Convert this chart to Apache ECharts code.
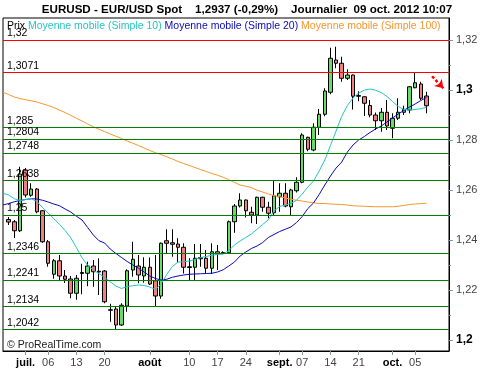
<!DOCTYPE html>
<html><head><meta charset="utf-8">
<script src="https://cdn.jsdelivr.net/npm/echarts@6/dist/echarts.min.js"></script>
<style>html,body{margin:0;padding:0;background:#fff}#c{width:500px;height:370px}</style>
</head><body><div id="c"></div>
<script>
const categories = ['26/06','27/06','28/06','29/06',
'02/07','03/07','04/07','05/07','06/07','09/07','10/07','11/07','12/07','13/07',
'16/07','17/07','18/07','19/07','20/07','23/07','24/07','25/07','26/07','27/07','30/07','31/07',
'01/08','02/08','03/08','06/08','07/08','08/08','09/08','10/08','13/08','14/08','15/08','16/08','17/08',
'20/08','21/08','22/08','23/08','24/08','27/08','28/08','29/08','30/08','31/08',
'03/09','04/09','05/09','06/09','07/09','10/09','11/09','12/09','13/09','14/09',
'17/09','18/09','19/09','20/09','21/09','24/09','25/09','26/09','27/09','28/09',
'01/10','02/10','03/10','04/10','05/10','08/10','09/10','10/10','11/10','12/10','15/10'];

const open = [null,
1.2482,1.2473,1.2437,
1.2680,1.2579,1.2604,1.2517,1.2393,
1.2263,1.2317,1.2256,1.2244,1.2187,
1.2266,1.2267,1.2296,1.2272,1.2276,
1.2121,1.2124,1.2060,1.2136,1.2280,
1.2296,1.2256,
1.2291,1.2237,1.2176,
1.2397,1.2389,1.2384,1.2371,1.2293,
1.2291,1.2330,1.2327,1.2287,1.2353,
1.2348,1.2349,1.2473,1.2536,1.2560,
1.2511,1.2500,1.2571,1.2531,1.2509,
1.2573,1.2587,1.2533,1.2597,1.2631,
1.2811,1.2760,1.2851,1.2903,1.2991,
1.3120,1.3107,1.3047,1.3060,1.2975,
1.2973,1.2938,1.2900,1.2877,1.2911,
1.2847,1.2887,1.2911,1.2920,1.3009,
1.3024,1.2976,
null,null,null,null];

const close = [null,
1.2472,1.2437,1.2664,
1.2580,1.2604,1.2513,1.2393,1.2307,
1.2317,1.2256,1.2243,1.2187,1.2247,
1.2270,1.2296,1.2273,1.2275,1.2153,
1.2119,1.2060,1.2139,1.2277,1.2323,
1.2260,1.2291,
1.2224,1.2176,1.2387,
1.2387,1.2383,1.2371,1.2291,1.2290,
1.2327,1.2325,1.2287,1.2353,1.2344,
1.2350,1.2473,1.2536,1.2560,1.2517,
1.2500,1.2571,1.2531,1.2507,1.2577,
1.2587,1.2536,1.2600,1.2631,1.2820,
1.2763,1.2851,1.2903,1.2996,1.3127,
1.3107,1.3047,1.3060,1.2975,1.2978,
1.2947,1.2900,1.2877,1.2911,1.2856,
1.2887,1.2911,1.2923,1.3013,1.3029,
1.2967,1.2937,
null,null,null,null];

const low = [null,
1.2460,1.2408,1.2432,
1.2570,1.2573,1.2507,1.2389,1.2293,
1.2245,1.2240,1.2228,1.2167,1.2161,
1.2183,1.2215,1.2213,1.2180,1.2147,
1.2073,1.2043,1.2056,1.2113,1.2253,
1.2227,1.2229,
1.2220,1.2133,1.2165,
1.2347,1.2333,1.2310,1.2266,1.2240,
1.2240,1.2293,1.2264,1.2264,1.2280,
1.2343,1.2345,1.2429,1.2530,1.2490,
1.2467,1.2464,1.2513,1.2487,1.2500,
1.2513,1.2531,1.2500,1.2590,1.2627,
1.2755,1.2755,1.2820,1.2895,1.2983,
1.3087,1.3033,1.3040,1.2922,1.2955,
1.2896,1.2891,1.2840,1.2833,1.2840,
1.2807,1.2880,1.2900,1.2907,1.3007,
1.2960,1.2907,
null,null,null,null];

const high = [null,
1.2492,1.2480,1.2693,
1.2688,1.2627,1.2608,1.2520,1.2400,
1.2324,1.2340,1.2280,1.2256,1.2260,
1.2305,1.2313,1.2320,1.2327,1.2280,
1.2145,1.2133,1.2147,1.2283,1.2393,
1.2340,1.2331,
1.2330,1.2340,1.2390,
1.2443,1.2443,1.2407,1.2387,1.2327,
1.2384,1.2384,1.2360,1.2387,1.2380,
1.2355,1.2478,1.2544,1.2587,1.2562,
1.2533,1.2573,1.2573,1.2553,1.2637,
1.2627,1.2627,1.2605,1.2651,1.2827,
1.2813,1.2867,1.2924,1.3007,1.3169,
1.3173,1.3133,1.3083,1.3062,1.2995,
1.2975,1.2960,1.2910,1.2928,1.2960,
1.2907,1.2967,1.2937,1.3016,1.3069,
1.3033,1.2993,
null,null,null,null];

const sma10 = [1.2587,1.2580,1.2565,1.2558,1.2562,1.2565,1.2554,1.2530,1.2508,1.2485,
1.2463,1.2438,1.2409,1.2370,1.2329,1.2299,1.2279,1.2266,1.2250,1.2233,
1.2216,1.2206,1.2214,1.2217,1.2220,1.2218,1.2212,1.2202,1.2225,1.2262,
1.2294,1.2312,1.2313,1.2316,1.2322,1.2330,1.2334,1.2339,1.2342,1.2344,
1.2358,1.2380,1.2396,1.2410,1.2424,1.2443,1.2462,1.2481,1.2516,1.2534,
1.2540,1.2546,1.2559,1.2584,1.2612,1.2636,1.2676,1.2720,1.2778,1.2836,
1.2895,1.2938,1.2968,1.2988,1.2999,1.3004,1.2999,1.2990,1.2974,1.2954,
1.2934,1.2922,1.2920,1.2922,1.2925,1.2931,null,null,null,null];

const sma20 = [1.2540,1.2546,1.2553,1.2558,1.2562,1.2565,1.2564,1.2559,1.2552,1.2544,
1.2537,1.2524,1.2512,1.2495,1.2480,1.2450,1.2420,1.2397,1.2388,1.2364,
1.2346,1.2330,1.2314,1.2300,1.2287,1.2272,1.2256,1.2246,1.2240,1.2243,
1.2251,1.2256,1.2260,1.2263,1.2264,1.2265,1.2266,1.2267,1.2272,1.2281,
1.2296,1.2312,1.2336,1.2352,1.2366,1.2376,1.2390,1.2410,1.2422,1.2434,
1.2443,1.2452,1.2470,1.2494,1.2526,1.2548,1.2582,1.2620,1.2656,1.2688,
1.2712,1.2752,1.2780,1.2800,1.2814,1.2830,1.2844,1.2856,1.2872,1.2888,
1.2904,1.2918,1.2932,1.2944,1.2958,1.2970,null,null,null,null];

const sma100 = [1.2991,1.2982,1.2972,1.2966,1.2961,1.2957,1.2952,1.2945,1.2938,1.2930,
1.2920,1.2910,1.2899,1.2887,1.2876,1.2864,1.2853,1.2843,1.2834,1.2824,
1.2815,1.2806,1.2796,1.2787,1.2778,1.2768,1.2758,1.2749,1.2742,1.2733,
1.2724,1.2714,1.2706,1.2698,1.2690,1.2682,1.2674,1.2666,1.2659,1.2651,
1.2641,1.2630,1.2620,1.2615,1.2610,1.2599,1.2592,1.2584,1.2578,1.2573,
1.2568,1.2563,1.2559,1.2556,1.2552,1.2549,1.2546,1.2546,1.2544,1.2543,
1.2542,1.2540,1.2537,1.2536,1.2535,1.2534,1.2533,1.2533,1.2533,1.2533,
1.2535,1.2538,1.2542,1.2544,1.2546,1.2547,null,null,null,null];

const resistanceLevels = [1.32, 1.3071];
const resistanceLabels = ['1,32', '1,3071'];
const supportLevels = [1.285, 1.2804, 1.2748, 1.2638, 1.25, 1.2346, 1.2241, 1.2134, 1.2042];
const supportLabels = ['1,285', '1,2804', '1,2748', '1,2638', '1,25', '1,2346', '1,2241', '1,2134', '1,2042'];

const yTickValues = [1.20, 1.22, 1.24, 1.26, 1.28, 1.30, 1.32];
const yTickLabels = ['1,2', '1,22', '1,24', '1,26', '1,28', '1,3', '1,32'];
const yMinorTickValues = [1.21, 1.23, 1.25, 1.27, 1.29, 1.31];

const xTickDates = ['02/07','06/07','13/07','20/07','01/08','10/08','17/08','24/08','03/09','07/09','14/09','21/09','01/10','05/10'];
const xTickLabels = ['juil.','06','13','20','août','10','17','24','sept.','07','14','21','oct.','05'];

const arrowFrom = [76.4, 1.3055];
const arrowTo = [78.3, 1.3007];

const titleText = 'EURUSD - EUR/USD Spot    1,2937 (-0,29%)    Journalier  09 oct. 2012 10:07';
const legendNames = ['Prix', 'Moyenne mobile (Simple 10)', 'Moyenne mobile (Simple 20)', 'Moyenne mobile (Simple 100)'];
const copyrightText = '© ProRealTime.com';

// ---------------- rendering ----------------
const FONT = 'Arial, "Liberation Sans", sans-serif';
const TICK = '#7f97b2';
const C10 = '#25c4c4', C20 = '#0a0ab8', C100 = '#f7962e';
const UP = '#66dd66', DOWN = '#f08080';

const xTickMap = {};
xTickDates.forEach((d, i) => { xTickMap[d] = xTickLabels[i]; });

const candleData = categories.map((d, i) =>
  open[i] == null ? ['-', '-', '-', '-'] : [open[i], close[i], low[i], high[i]]);

const levelData = [];
resistanceLevels.forEach((v, i) => levelData.push({
  yAxis: v, lineStyle: {color: '#ff0000', width: 1, type: 'solid'},
  label: {formatter: resistanceLabels[i]}
}));
supportLevels.forEach((v, i) => levelData.push({
  yAxis: v, lineStyle: {color: '#008000', width: 1, type: 'solid'},
  label: {formatter: supportLabels[i]}
}));

function yLabel(v) {
  let idx = -1;
  yTickValues.forEach((t, i) => { if (Math.abs(t - v) < 1e-6) idx = i; });
  if (idx < 0) return '';
  const s = yTickLabels[idx];
  return /^\d,\d$/.test(s) ? '{b|' + s + '}' : s;
}

const chart = echarts.init(document.getElementById('c'));
chart.setOption({
  animation: false,
  backgroundColor: '#fff',
  grid: {left: 3, right: 51, top: 18, bottom: 19, show: true, borderColor: '#000', borderWidth: 1},
  xAxis: {
    type: 'category', data: categories, boundaryGap: false,
    axisLine: {lineStyle: {color: '#000', width: 1}},
    axisTick: {interval: (i, v) => xTickMap[v] !== undefined, length: 4, lineStyle: {color: TICK}},
    axisLabel: {
      interval: (i, v) => xTickMap[v] !== undefined,
      formatter: v => { const s = xTickMap[v] || ''; return /[a-zû]/.test(s) ? '{m|' + s + '}' : s; },
      margin: 6, fontSize: 11, color: '#444', fontFamily: FONT,
      rich: {m: {fontWeight: 'bold', color: '#000', fontSize: 11, fontFamily: FONT}}
    },
    splitLine: {show: false}
  },
  yAxis: [{
    type: 'value', position: 'right', min: 1.1956, max: 1.3288,
    axisLine: {show: true, lineStyle: {color: '#000'}},
    axisTick: {show: true, customValues: yTickValues, length: 4, lineStyle: {color: TICK}},
    axisLabel: {customValues: yTickValues, margin: 7, formatter: yLabel, fontSize: 11, color: '#444', fontFamily: FONT,
      rich: {b: {fontWeight: 'bold', fontSize: 12, color: '#000', fontFamily: FONT}}},
    splitLine: {show: false}
  }, {
    type: 'value', position: 'right', min: 1.1956, max: 1.3288,
    axisLine: {show: false},
    axisTick: {show: true, customValues: yMinorTickValues, length: 2, lineStyle: {color: TICK}},
    axisLabel: {show: false},
    splitLine: {show: false}
  }],
  graphic: [
    {type: 'text', z: 100, style: {x: 247, y: 4, text: titleText, textAlign: 'center', fill: '#000',
      font: 'bold 11.6px ' + FONT}},
    {type: 'text', z: 100, style: {x: 7, y: 21, fill: '#000', font: '10.5px ' + FONT,
      text: '{p|' + legendNames[0] + '} {a|' + legendNames[1] + '} {b|' + legendNames[2] + '} {c|' + legendNames[3] + '}',
      rich: {
        p: {fill: '#000', fontSize: 10.5, fontFamily: FONT},
        a: {fill: C10, fontSize: 10.5, fontFamily: FONT},
        b: {fill: C20, fontSize: 10.5, fontFamily: FONT},
        c: {fill: C100, fontSize: 10.5, fontFamily: FONT}
      }}},
    {type: 'text', z: 100, style: {x: 7, y: 340, text: copyrightText, fill: '#222', font: '10.5px ' + FONT}}
  ],
  series: [
    {
      name: 'levels', type: 'line', data: [], z: 1, silent: true,
      markLine: {
        silent: true, symbol: ['none', 'none'], animation: false, precision: 6,
        label: {show: true, position: 'insideStartTop', distance: [4, 1], color: '#000', fontSize: 10.5, fontFamily: FONT},
        data: levelData
      }
    },
    {
      name: 'Prix', type: 'candlestick', data: candleData, z: 2, barWidth: 4,
      itemStyle: {color: UP, color0: DOWN, borderColor: '#000', borderColor0: '#000', borderWidth: 1}
    },
    {name: 'SMA100', type: 'line', data: sma100, z: 3, symbol: 'none', lineStyle: {color: C100, width: 1}},
    {name: 'SMA20', type: 'line', data: sma20, z: 3, symbol: 'none', lineStyle: {color: C20, width: 1}},
    {name: 'SMA10', type: 'line', data: sma10, z: 3, symbol: 'none', lineStyle: {color: C10, width: 1}},
    {
      name: 'arrow', type: 'line', data: [], z: 4, silent: true,
      markLine: {
        silent: true, animation: false, symbol: ['none', 'arrow'], symbolSize: 8, precision: 6,
        label: {show: false},
        lineStyle: {color: '#ff0000', width: 2.5, type: [3, 2]},
        data: [[{coord: arrowFrom}, {coord: arrowTo}]]
      }
    }
  ]
});
</script>
</body></html>
